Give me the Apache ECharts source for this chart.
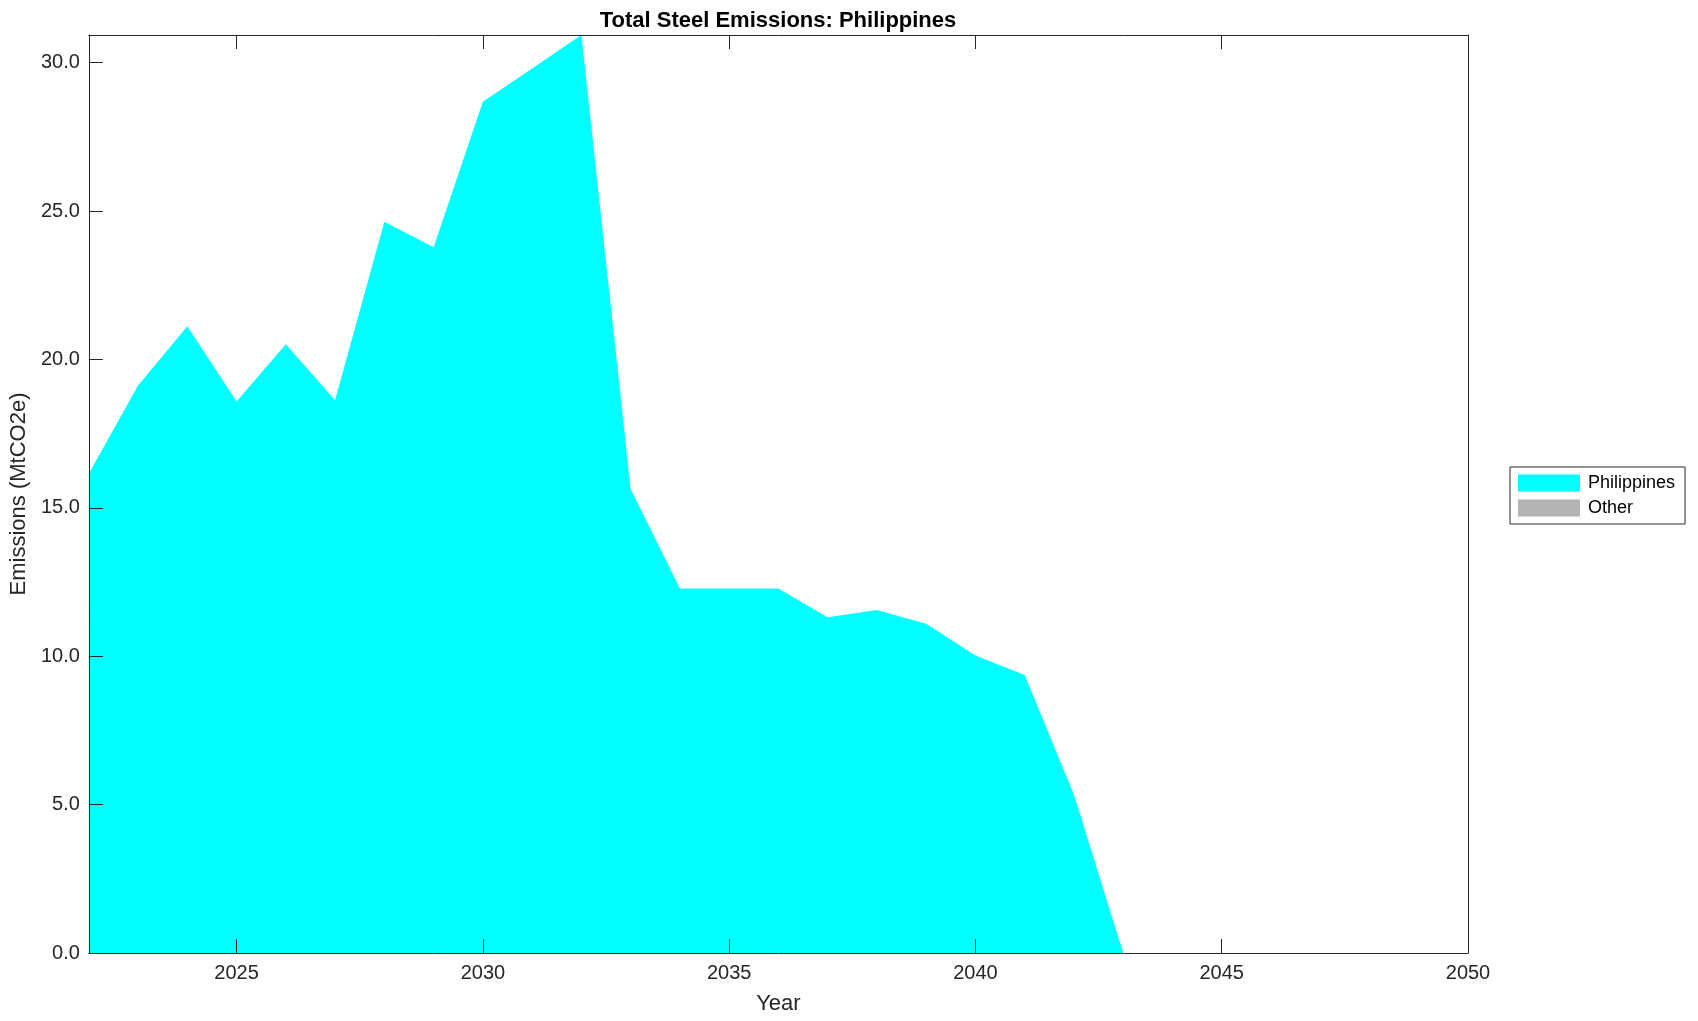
<!DOCTYPE html>
<html>
<head>
<meta charset="utf-8">
<title>Total Steel Emissions: Philippines</title>
<script src="https://cdn.jsdelivr.net/npm/echarts@6/dist/echarts.min.js"></script>
<style>
  html, body { margin: 0; padding: 0; background: #fff; }
  #myChart { width: 1698px; height: 1021px; }
</style>
</head>
<body>
<div id="myChart"></div>
<script>
// data
var years = [2022, 2023, 2024, 2025, 2026, 2027, 2028, 2029, 2030, 2031, 2032, 2033, 2034, 2035,
  2036, 2037, 2038, 2039, 2040, 2041, 2042, 2043, 2044, 2045, 2046, 2047, 2048, 2049, 2050];
var philippines = [16.15, 19.12, 21.12, 18.58, 20.51, 18.62, 24.64, 23.78, 28.68, 29.80, 30.93,
  15.63, 12.28, 12.28, 12.28, 11.31, 11.56, 11.09, 10.02, 9.37, 5.33, 0, 0, 0, 0, 0, 0, 0, 0];
var other = [0, 0, 0, 0, 0, 0, 0, 0, 0, 0, 0, 0, 0, 0, 0, 0, 0, 0, 0, 0, 0, 0, 0, 0, 0, 0, 0, 0, 0];
var xTicks = [2025, 2030, 2035, 2040, 2045, 2050];
var yTicks = [0, 5, 10, 15, 20, 25, 30];

var font = "'Liberation Sans', Arial, Helvetica, sans-serif";
var axisColor = "#262626";

function pairs(vals) {
  var out = [];
  for (var i = 0; i < years.length; i++) {
    out.push([years[i], vals[i]]);
  }
  return out;
}

function xAx(pos, show) {
  return {
    type: "value",
    position: pos,
    z: 10,
    min: 2022,
    max: 2050,
    name: show ? "Year" : "",
    nameLocation: "middle",
    nameGap: 40,
    nameTextStyle: { fontFamily: font, fontSize: 22, color: axisColor },
    axisLine: { show: true, onZero: false, lineStyle: { color: axisColor, width: 1 } },
    axisTick: { show: true, inside: true, length: 14, customValues: xTicks, lineStyle: { color: axisColor } },
    axisLabel: {
      show: show,
      customValues: xTicks,
      fontFamily: font,
      fontSize: 20,
      color: axisColor,
      margin: 10,
      formatter: function (v) { return String(v); },
    },
    splitLine: { show: false },
  };
}

function yAx(pos, show) {
  return {
    type: "value",
    position: pos,
    z: 10,
    min: 0,
    max: function (v) { return v.max; },
    name: show ? "Emissions (MtCO2e)" : "",
    nameLocation: "middle",
    nameGap: 55,
    nameTextStyle: { fontFamily: font, fontSize: 22, color: axisColor },
    axisLine: { show: true, onZero: false, lineStyle: { color: axisColor, width: 1 } },
    axisTick: { show: true, inside: true, length: 14, customValues: yTicks, lineStyle: { color: axisColor } },
    axisLabel: {
      show: show,
      customValues: yTicks,
      fontFamily: font,
      fontSize: 20,
      color: axisColor,
      margin: 9,
      formatter: function (v) { return v.toFixed(1); },
    },
    splitLine: { show: false },
  };
}

var myChart = echarts.init(document.getElementById("myChart"));
myChart.setOption({
  animation: false,
  backgroundColor: "#fff",
  title: {
    text: "Total Steel Emissions: Philippines",
    left: 778,
    textAlign: "center",
    top: 10,
    padding: 0,
    textStyle: { fontFamily: font, fontSize: 22, fontWeight: "bold", color: "#000" },
  },
  legend: {
    orient: "vertical",
    left: 1510,
    top: 467,
    padding: [7, 10, 7, 8],
    itemGap: 7,
    itemWidth: 62,
    itemHeight: 17,
    icon: "rect",
    borderColor: axisColor,
    borderWidth: 1,
    textStyle: { fontFamily: font, fontSize: 18, color: "#000", padding: [0, 0, 0, 3] },
    data: ["Philippines", "Other"],
  },
  grid: { left: 88, right: 230, top: 35, bottom: 68, containLabel: false },
  xAxis: [xAx("bottom", true), xAx("top", false)],
  yAxis: [yAx("left", true), yAx("right", false)],
  series: [
    {
      name: "Philippines",
      type: "line",
      stack: "total",
      color: "#00ffff",
      symbol: "none",
      lineStyle: { width: 0 },
      areaStyle: { color: "#00ffff", opacity: 1 },
      data: pairs(philippines),
    },
    {
      name: "Other",
      type: "line",
      stack: "total",
      color: "#b3b3b3",
      symbol: "none",
      lineStyle: { width: 0 },
      areaStyle: { color: "#b3b3b3", opacity: 1 },
      data: pairs(other),
    },
  ],
});
</script>
</body>
</html>
